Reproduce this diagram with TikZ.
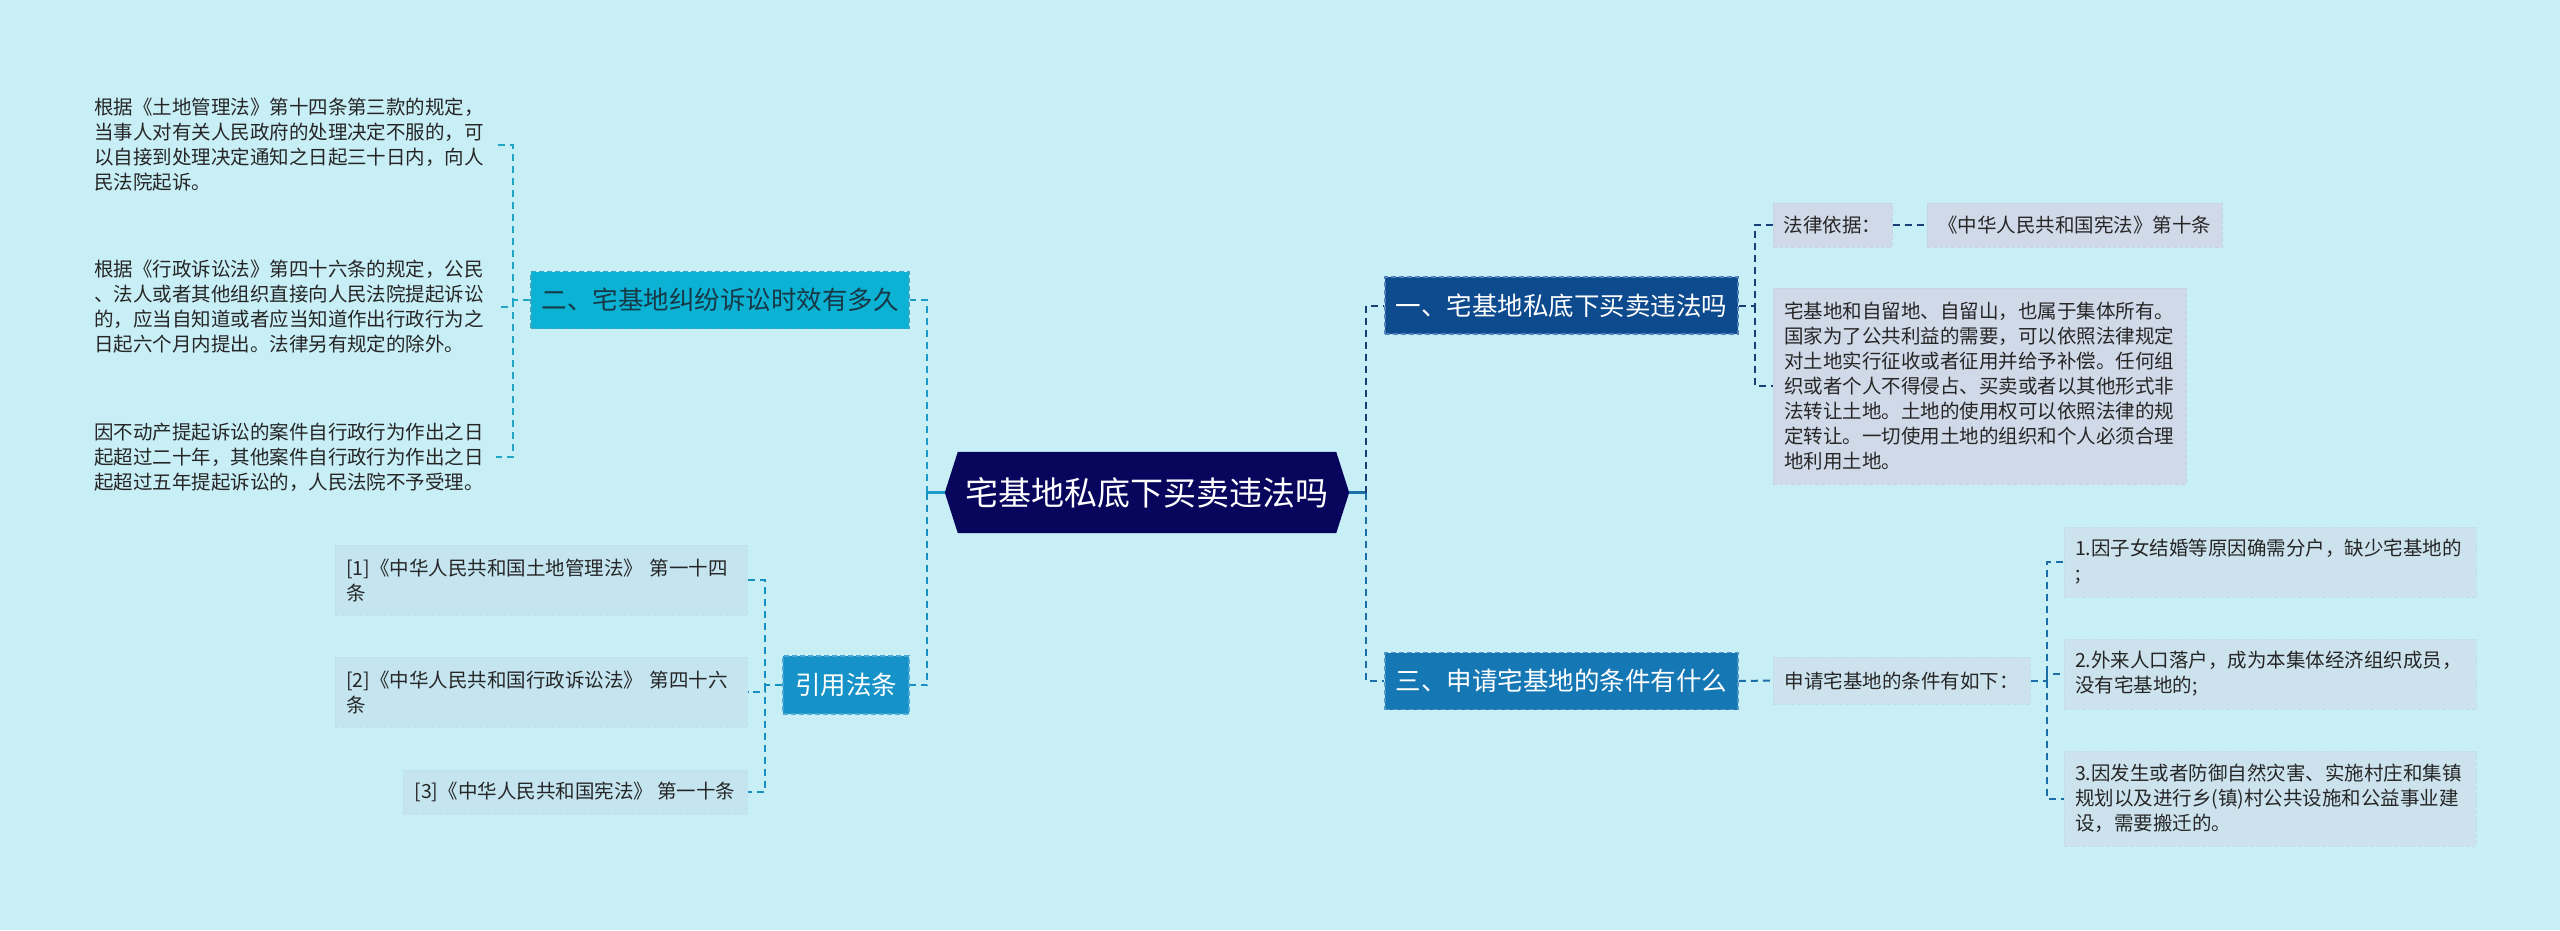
\documentclass[tikz,border=0pt]{standalone}
\usepackage{fontspec}
\setmainfont{Noto Sans CJK SC}
\usetikzlibrary{calc}
\definecolor{bg}{HTML}{C8EEF6}
\definecolor{ctrfill}{HTML}{08065C}
\definecolor{afill}{HTML}{0E4A8E}
\definecolor{aborder}{HTML}{5583B9}
\definecolor{bfill}{HTML}{0BB2D3}
\definecolor{bborder}{HTML}{3BA3C4}
\definecolor{btext}{HTML}{173846}
\definecolor{cfill}{HTML}{1677B5}
\definecolor{cborder}{HTML}{5298C6}
\definecolor{dfill}{HTML}{1593C8}
\definecolor{dborder}{HTML}{4AA9D3}
\definecolor{grayfill}{HTML}{D0D9E8}
\definecolor{grayborder}{HTML}{C6D2E4}
\definecolor{bluefill}{HTML}{CCE3EE}
\definecolor{blueborder}{HTML}{C2DDEA}
\definecolor{reffill}{HTML}{C4E5F0}
\definecolor{refborder}{HTML}{BEE0EC}
\definecolor{leaftext}{HTML}{262626}
\definecolor{lineA}{HTML}{163F78}
\definecolor{lineB}{HTML}{22A6C6}
\definecolor{lineC}{HTML}{1B6FA9}
\definecolor{lineD}{HTML}{1990C4}
\definecolor{lineL}{HTML}{1A9BC9}
\pgfdeclarelayer{back}
\pgfdeclarelayer{poly}
\pgfsetlayers{back,poly,main}
\begin{document}
\begin{tikzpicture}[x=1pt,y=-1pt,
  leaf/.style={font=\fontsize{19.5}{25}\selectfont, text=leaftext, align=left, inner sep=0pt, anchor=center},
  graybox/.style={leaf, fill=grayfill, draw=grayborder, line width=1pt, dash pattern=on 4pt off 2pt},
  bluebox/.style={leaf, fill=bluefill, draw=blueborder, line width=1pt, dash pattern=on 4pt off 2pt},
  refbox/.style={leaf, fill=reffill, draw=refborder, line width=1pt, dash pattern=on 4pt off 2pt},
  plaintext/.style={leaf},
  mainnode/.style={font=\fontsize{25.5}{30}\selectfont, inner sep=0pt, anchor=center, line width=1.5pt, dash pattern=on 5pt off 3pt},
  conn/.style={line width=2pt, dash pattern=on 7pt off 5pt},
  solidc/.style={line width=2.5pt}
]
\begin{pgfonlayer}{back}
\fill[bg] (0,0) rectangle (2560,930);
\end{pgfonlayer}
\useasboundingbox (0,0) rectangle (2560,930);

% centre
\node[inner sep=0pt, minimum width=378pt, minimum height=81pt, text=white,
      font=\fontsize{33}{38}\selectfont] (ctr) at (1147,492.5) {宅基地私底下买卖违法吗};
\coordinate (ctrL) at ($(ctr.west)+(-13,0)$);
\coordinate (ctrR) at ($(ctr.east)+(13,0)$);
\begin{pgfonlayer}{poly}
\fill[ctrfill] (ctrL) -- (ctr.north west) -- (ctr.north east) -- (ctrR) -- (ctr.south east) -- (ctr.south west) -- cycle;
\end{pgfonlayer}

% main branches
\node[mainnode, fill=afill, draw=aborder, text=white, minimum width=353pt, minimum height=57pt] (A) at (1561.5,305.5) {一、宅基地私底下买卖违法吗};
\node[mainnode, fill=cfill, draw=cborder, text=white, minimum width=353pt, minimum height=57pt] (C) at (1561.5,681) {三、申请宅基地的条件有什么};
\node[mainnode, fill=bfill, draw=bborder, text=btext, minimum width=378pt, minimum height=57pt] (B) at (720,300) {二、宅基地纠纷诉讼时效有多久};
\node[mainnode, fill=dfill, draw=dborder, text=white, minimum width=126pt, minimum height=58pt] (D) at (846,685) {引用法条};

% right-upper leaves
\node[graybox, minimum width=119pt, minimum height=44pt] (law) at (1832.5,225) {法律依据：};
\node[graybox, minimum width=295pt, minimum height=44pt] (xf) at (2074.5,225) {《中华人民共和国宪法》第十条};
\node[graybox, minimum width=413pt, minimum height=196pt, text width=391pt] (lt) at (1979.5,386) {宅基地和自留地、自留山，也属于集体所有。\\国家为了公共利益的需要，可以依照法律规定\\对土地实行征收或者征用并给予补偿。任何组\\织或者个人不得侵占、买卖或者以其他形式非\\法转让土地。土地的使用权可以依照法律的规\\定转让。一切使用土地的组织和个人必须合理\\地利用土地。};

% right-lower leaves
\node[bluebox, minimum width=257pt, minimum height=47pt] (sq) at (1901.5,680.5) {申请宅基地的条件有如下：};
\node[bluebox, minimum width=412pt, minimum height=70pt, text width=390pt] (i1) at (2270,562) {1.因子女结婚等原因确需分户，缺少宅基地的\\;};
\node[bluebox, minimum width=412pt, minimum height=70pt, text width=390pt] (i2) at (2270,674) {2.外来人口落户，成为本集体经济组织成员，\\没有宅基地的;};
\node[bluebox, minimum width=412pt, minimum height=95pt, text width=390pt] (i3) at (2270,798.5) {3.因发生或者防御自然灾害、实施村庄和集镇\\规划以及进行乡(镇)村公共设施和公益事业建\\设，需要搬迁的。};

% left-upper leaves
\node[plaintext, minimum width=412pt, text width=392pt] (t1) at (290,145) {根据《土地管理法》第十四条第三款的规定，\\当事人对有关人民政府的处理决定不服的，可\\以自接到处理决定通知之日起三十日内，向人\\民法院起诉。};
\node[plaintext, minimum width=412pt, text width=392pt] (t2) at (290,307) {根据《行政诉讼法》第四十六条的规定，公民\\、法人或者其他组织直接向人民法院提起诉讼\\的，应当自知道或者应当知道作出行政行为之\\日起六个月内提出。法律另有规定的除外。};
\node[plaintext, minimum width=412pt, text width=392pt] (t3) at (290,457) {因不动产提起诉讼的案件自行政行为作出之日\\起超过二十年，其他案件自行政行为作出之日\\起超过五年提起诉讼的，人民法院不予受理。};

% left-lower leaves
\node[refbox, minimum width=412pt, minimum height=70pt, text width=390pt] (r1) at (541,580) {[1]《中华人民共和国土地管理法》 第一十四\\条};
\node[refbox, minimum width=412pt, minimum height=70pt, text width=390pt] (r2) at (541,692) {[2]《中华人民共和国行政诉讼法》 第四十六\\条};
\node[refbox, minimum width=344pt, minimum height=44pt] (r3) at (575,792) {[3]《中华人民共和国宪法》 第一十条};

% junction points
\coordinate (tL) at (927,492.5);
\coordinate (tR) at (1366,492.5);
\coordinate (vA) at (1755,305.5);
\coordinate (vSQ) at (2047,680.5);
\coordinate (vB) at (513,300);
\coordinate (vD) at (765,685);

% connectors from centre
\draw[solidc, lineL] (ctrL) -- (tL);
\draw[solidc, lineC] (ctrR) -- (tR);
\draw[conn, lineL] (tL) |- (B.east);
\draw[conn, lineD] (tL) |- (D.east);
\draw[conn, lineA] (tR) |- (A.west);
\draw[conn, lineC] (tR) |- (C.west);

% A children
\draw[conn, lineA] (A.east) -- (vA) |- (law.west);
\draw[conn, lineA] (vA) |- (lt.west);
\draw[conn, lineA] (law.east) -- (xf.west);

% C children
\draw[conn, lineC] (C.east) -- (sq.west);
\draw[conn, lineC] (sq.east) -- (vSQ) |- (i1.west);
\draw[conn, lineC] (vSQ) |- (i2.west);
\draw[conn, lineC] (vSQ) |- (i3.west);

% B children
\draw[conn, lineB] (B.west) -- (vB) |- (t1.east);
\draw[conn, lineB] (vB) |- (t2.east);
\draw[conn, lineB] (vB) |- (t3.east);

% D children
\draw[conn, lineD] (D.west) -- (vD) |- (r1.east);
\draw[conn, lineD] (vD) |- (r2.east);
\draw[conn, lineD] (vD) |- (r3.east);
\end{tikzpicture}
\end{document}
